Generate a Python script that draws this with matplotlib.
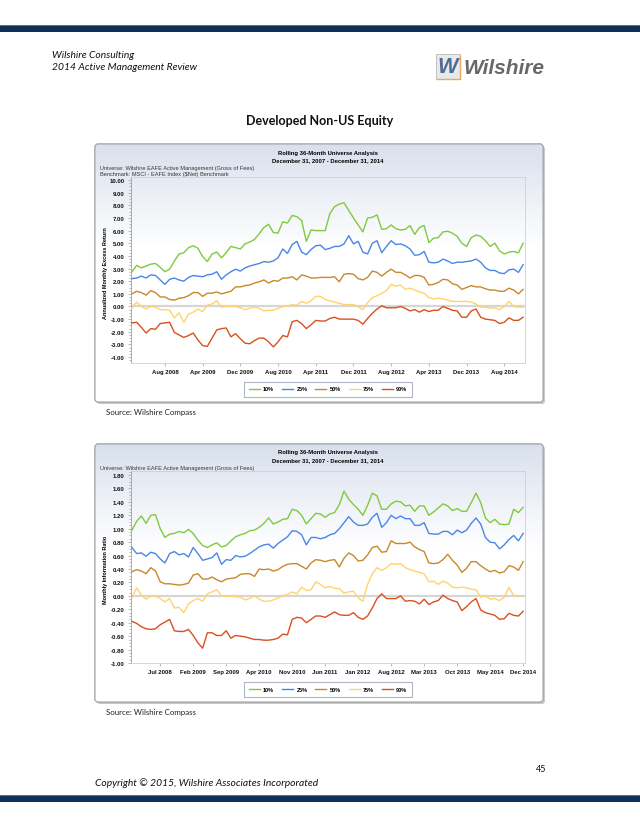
import numpy as np
import matplotlib.pyplot as plt
from matplotlib.patches import FancyBboxPatch, Rectangle
from matplotlib.ticker import MultipleLocator, FormatStrFormatter

W, H = 640, 828

# month index 0 = Jan 2008 ... 83 = Dec 2014
months = np.arange(84)
pct_labels = ['10%', '25%', '50%', '75%', '90%']
colors = ['#7fca3e', '#4a86e8', '#c8882c', '#ffd46a', '#d9501f']

# chart 1: annualized monthly excess return
exc_10 = [2.75, 3.25, 3.05, 3.2, 3.35, 3.4, 3.1, 2.75, 2.95, 3.6,
          4.15, 4.25, 4.65, 4.8, 4.6, 3.95, 3.55, 4.15, 4.3, 3.85,
          4.25, 4.75, 4.65, 4.55, 4.95, 5.1, 5.3, 5.75, 6.25, 6.5,
          5.85, 5.8, 6.7, 6.6, 7.2, 7.1, 6.8, 5.15, 6.05, 6.0,
          6.0, 6.0, 7.35, 7.9, 8.1, 8.2, 7.6, 7.0, 6.45, 5.9,
          7.0, 7.05, 7.25, 6.1, 6.15, 6.45, 6.15, 6.05, 6.1, 6.4,
          5.7, 6.25, 6.4, 5.05, 5.4, 5.45, 5.9, 5.95, 5.8, 5.55,
          5.0, 4.75, 5.45, 5.65, 5.55, 5.2, 4.75, 5.0, 4.4, 4.15,
          4.3, 4.35, 4.25, 5.0]
exc_25 = [2.2, 2.25, 2.4, 2.25, 2.5, 2.45, 2.1, 1.75, 2.15, 2.25,
          2.1, 2.0, 2.3, 2.45, 2.4, 2.35, 2.5, 2.55, 2.75, 2.15,
          2.5, 2.75, 2.95, 2.8, 3.05, 3.2, 3.3, 3.4, 3.55, 3.5,
          3.6, 3.85, 4.55, 4.2, 4.9, 5.15, 4.3, 4.1, 4.5, 4.8,
          4.85, 4.5, 4.6, 4.75, 4.75, 4.95, 5.6, 4.95, 5.15, 4.3,
          4.15, 5.0, 5.2, 4.25, 4.75, 5.2, 4.9, 4.95, 4.8, 4.55,
          4.05, 4.1, 4.35, 3.5, 3.45, 3.5, 3.75, 3.6, 3.4, 3.5,
          3.5, 3.55, 3.6, 3.75, 3.5, 3.05, 2.85, 2.85, 2.65, 2.6,
          2.9, 2.95, 2.7, 3.3]
exc_50 = [1.0, 1.2, 1.1, 0.9, 1.25, 1.1, 0.75, 0.75, 0.55, 0.5,
          0.65, 0.7, 0.85, 1.1, 1.1, 0.8, 1.05, 1.05, 1.15, 1.0,
          1.1, 1.2, 1.55, 1.55, 1.65, 1.7, 1.85, 1.95, 2.1, 1.85,
          2.05, 2.0, 2.25, 2.25, 2.35, 2.1, 2.5, 2.4, 2.25, 2.25,
          2.3, 2.3, 2.3, 2.35, 1.95, 2.55, 2.6, 2.55, 2.2, 2.1,
          2.3, 2.8, 2.7, 2.4, 2.7, 2.95, 2.7, 2.7, 2.5, 2.25,
          2.45, 2.45, 2.3, 1.7, 1.75, 1.9, 2.15, 2.1, 1.8, 1.7,
          1.35, 1.5, 1.65, 1.55, 1.55, 1.4, 1.3, 1.3, 1.2, 1.2,
          1.45, 1.3, 1.0, 1.35]
exc_75 = [-0.1, 0.35, 0.0, -0.2, 0.0, -0.05, -0.25, -0.25, -0.3, -0.9,
          -0.5, -1.25, -0.6, -0.45, -0.2, -0.4, 0.1, 0.2, 0.45, -0.05,
          0.0, 0.0, 0.0, -0.1, -0.25, -0.15, -0.05, -0.15, -0.35, -0.3,
          -0.3, -0.15, 0.0, 0.05, 0.15, 0.1, 0.4, 0.25, 0.45, 0.8,
          0.8, 0.55, 0.45, 0.35, 0.25, 0.15, 0.15, 0.15, 0.0, -0.25,
          0.3, 0.7, 0.85, 1.05, 1.25, 1.75, 1.6, 1.7, 1.35, 1.45,
          1.3, 1.15, 1.05, 0.7, 0.6, 0.65, 0.6, 0.5, 0.4, 0.4,
          0.4, 0.4, 0.35, 0.2, -0.05, -0.05, -0.15, -0.1, -0.25, 0.0,
          0.4, 0.0, -0.05, -0.05]
exc_90 = [-1.3, -1.25, -1.65, -2.1, -1.75, -1.8, -1.35, -1.3, -1.25, -2.05,
          -2.25, -2.45, -2.3, -2.1, -2.65, -3.1, -3.15, -2.5, -1.85, -1.75,
          -1.7, -2.4, -2.15, -2.55, -2.9, -2.95, -2.7, -2.5, -2.5, -2.8,
          -3.2, -2.8, -2.3, -2.4, -1.2, -1.1, -1.35, -1.75, -1.45, -1.1,
          -1.15, -1.15, -0.95, -0.85, -1.0, -1.0, -1.0, -1.0, -1.1, -1.4,
          -0.95, -0.55, -0.2, 0.05, -0.1, -0.1, -0.1, 0.0, -0.15, -0.35,
          -0.25, -0.45, -0.25, -0.4, -0.3, -0.3, 0.0, -0.15, -0.3, -0.35,
          -0.85, -0.85, -0.35, -0.2, -0.85, -1.0, -1.05, -1.1, -1.35, -1.25,
          -0.9, -1.1, -1.1, -0.85]

# chart 2: monthly information ratio
ir_10 = [0.98, 1.11, 1.19, 1.08, 1.2, 1.21, 1.0, 0.87, 0.92, 0.93,
         0.96, 0.94, 0.99, 0.93, 0.83, 0.75, 0.72, 0.76, 0.79, 0.73,
         0.75, 0.82, 0.88, 0.91, 0.93, 0.97, 0.98, 1.02, 1.08, 1.16,
         1.07, 1.1, 1.14, 1.15, 1.29, 1.27, 1.2, 1.07, 1.15, 1.23,
         1.22, 1.17, 1.22, 1.24, 1.36, 1.56, 1.44, 1.36, 1.29, 1.2,
         1.35, 1.53, 1.49, 1.29, 1.29, 1.37, 1.41, 1.4, 1.34, 1.35,
         1.26, 1.34, 1.34, 1.2, 1.25, 1.31, 1.37, 1.34, 1.27, 1.3,
         1.26, 1.26, 1.39, 1.53, 1.39, 1.16, 1.09, 1.14, 1.07, 1.06,
         1.07, 1.29, 1.24, 1.32]
ir_25 = [0.72, 0.63, 0.64, 0.59, 0.65, 0.63, 0.55, 0.49, 0.63, 0.66,
         0.61, 0.63, 0.58, 0.72, 0.63, 0.53, 0.55, 0.57, 0.64, 0.47,
         0.54, 0.53, 0.6, 0.58, 0.59, 0.63, 0.68, 0.73, 0.76, 0.77,
         0.71, 0.78, 0.83, 0.88, 0.97, 0.96, 0.91, 0.76, 0.87, 0.87,
         0.85, 0.87, 0.91, 0.93, 1.0, 1.09, 1.18, 1.1, 1.05, 1.05,
         1.07, 1.17, 1.23, 1.02, 1.09, 1.2, 1.15, 1.19, 1.15, 1.15,
         1.05, 1.05, 1.09, 0.93, 0.92, 0.92, 0.96, 0.96, 0.91, 0.98,
         0.94, 0.98, 1.08, 1.16, 1.07, 0.87, 0.8, 0.79, 0.7, 0.76,
         0.84, 0.9, 0.82, 0.93]
ir_50 = [0.36, 0.39, 0.37, 0.33, 0.42, 0.37, 0.21, 0.18, 0.18, 0.17,
         0.16, 0.17, 0.19, 0.31, 0.33, 0.25, 0.25, 0.28, 0.24, 0.21,
         0.25, 0.26, 0.27, 0.32, 0.33, 0.33, 0.29, 0.4, 0.39, 0.4,
         0.37, 0.39, 0.44, 0.47, 0.48, 0.48, 0.44, 0.4, 0.49, 0.54,
         0.53, 0.51, 0.53, 0.54, 0.43, 0.56, 0.64, 0.6, 0.52, 0.53,
         0.61, 0.72, 0.74, 0.65, 0.66, 0.82, 0.78, 0.78, 0.78, 0.8,
         0.73, 0.69, 0.66, 0.49, 0.48, 0.49, 0.54, 0.62, 0.53, 0.46,
         0.35, 0.41, 0.51, 0.51, 0.45, 0.4, 0.36, 0.38, 0.34, 0.36,
         0.45, 0.43, 0.38, 0.51]
ir_75 = [-0.03, 0.12, 0.01, -0.05, 0.0, 0.0, -0.04, -0.09, -0.04, -0.18,
         -0.17, -0.25, -0.12, -0.07, -0.04, -0.08, 0.03, 0.06, 0.09, 0.0,
         0.0, -0.01, -0.01, -0.02, -0.06, -0.04, 0.0, -0.05, -0.08, -0.08,
         -0.06, -0.03, 0.0, 0.02, 0.06, 0.03, 0.13, 0.08, 0.09, 0.21,
         0.17, 0.12, 0.14, 0.11, 0.11, 0.04, 0.06, 0.07, -0.03, -0.08,
         0.17, 0.33, 0.42, 0.38, 0.42, 0.48, 0.47, 0.48, 0.42, 0.39,
         0.37, 0.35, 0.33, 0.21, 0.22, 0.17, 0.22, 0.19, 0.13, 0.12,
         0.13, 0.12, 0.1, 0.09, -0.02, 0.0, -0.05, -0.04, -0.07, -0.02,
         0.13, 0.0, 0.0, 0.0]
ir_90 = [-0.38, -0.41, -0.46, -0.49, -0.5, -0.49, -0.43, -0.39, -0.35, -0.52,
         -0.53, -0.53, -0.5, -0.59, -0.7, -0.78, -0.55, -0.55, -0.59, -0.59,
         -0.52, -0.63, -0.59, -0.6, -0.61, -0.63, -0.65, -0.65, -0.66, -0.66,
         -0.65, -0.63, -0.57, -0.58, -0.35, -0.32, -0.33, -0.4, -0.35, -0.3,
         -0.3, -0.32, -0.28, -0.24, -0.28, -0.29, -0.29, -0.25, -0.32, -0.35,
         -0.3, -0.18, -0.04, 0.03, -0.04, -0.04, -0.04, 0.0, -0.08, -0.07,
         -0.08, -0.12, -0.05, -0.13, -0.09, -0.07, 0.01, -0.04, -0.07, -0.09,
         -0.22, -0.16, -0.09, -0.04, -0.21, -0.25, -0.27, -0.29, -0.35, -0.34,
         -0.26, -0.29, -0.3, -0.23]

# x tick labels
xt1_pos = [7, 15, 23, 31, 39, 47, 55, 63, 71, 79]
xt1_lab = ['Aug 2008', 'Apr 2009', 'Dec 2009', 'Aug 2010', 'Apr 2011',
           'Dec 2011', 'Aug 2012', 'Apr 2013', 'Dec 2013', 'Aug 2014']
xt2_pos = [6, 13, 20, 27, 34, 41, 48, 55, 62, 69, 76, 83]
xt2_lab = ['Jul 2008', 'Feb 2009', 'Sep 2009', 'Apr 2010', 'Nov 2010',
           'Jun 2011', 'Jan 2012', 'Aug 2012', 'Mar 2013', 'Oct 2013',
           'May 2014', 'Dec 2014']

CF = 'Liberation Sans'
PF = 'Lato'


def box(x0, y0, x1, y1):
    # pixel box (top-left origin) -> figure coords
    return [x0 / W, 1 - y1 / H, (x1 - x0) / W, (y1 - y0) / H]


fig = plt.figure(figsize=(6.4, 8.28), dpi=100)
page = fig.add_axes([0, 0, 1, 1])
page.set_xlim(0, W)
page.set_ylim(H, 0)
page.axis('off')

# navy bars top and bottom
for yb in (26, 796):
    page.add_patch(Rectangle((0, yb), W, 7.0, color='#0f3158', lw=0))
    page.add_patch(Rectangle((0, yb), W, 1.2, color='#50708f', lw=0))

page.text(52, 56, 'Wilshire Consulting', family=PF, style='italic',
          size=7.4, va='center', color='#111111')
page.text(52, 68, '2014 Active Management Review', family=PF, style='italic',
          size=7.4, va='center', color='#111111')

# logo
page.add_patch(Rectangle((436, 55), 24, 25, fc='#e9e9e9', ec='#b8b8b8', lw=0.6))
page.plot([437, 460, 460], [80, 80, 57], color='#e9a961', lw=1.0)
page.text(448, 67.5, 'W', family=CF, weight='bold', style='italic',
          size=15.5, color='#4f6c96', ha='center', va='center')
page.text(463, 68, 'Wilshire', family=CF, weight='bold', style='italic',
          size=15, color='#686868', ha='left', va='center')

page.text(320, 121, 'Developed Non-US Equity', family=PF, weight='bold',
          size=9, ha='center', va='center', color='#111111')

# gradient used for the chart panels
t = np.linspace(0, 1, 200)
a = np.clip(1 - t / 0.4, 0, 1)[:, None, None]
top_col = np.array([0.85, 0.88, 0.93])
grad = (1 - a) * np.ones(3) + a * top_col


def panel(y0, y1):
    x0, x1 = 95, 543
    sh = FancyBboxPatch((x0 + 2, y0 + 2), x1 - x0, y1 - y0,
                        boxstyle='round,pad=0,rounding_size=3',
                        fc='#c9c9c9', ec='none')
    page.add_patch(sh)
    body = FancyBboxPatch((x0, y0), x1 - x0, y1 - y0,
                          boxstyle='round,pad=0,rounding_size=3',
                          fc='white', ec='#a6a6a6', lw=0.8)
    page.add_patch(body)
    im = page.imshow(grad, extent=(x0, x1, y1, y0), aspect='auto',
                     origin='upper', zorder=2)
    im.set_clip_path(body)
    edge = FancyBboxPatch((x0, y0), x1 - x0, y1 - y0,
                          boxstyle='round,pad=0,rounding_size=3',
                          fc='none', ec='#a6a6a6', lw=0.8, zorder=3)
    page.add_patch(edge)
    page.set_xlim(0, W)
    page.set_ylim(H, 0)


def chart(y0, series, ylim, ystep, yminor, ylabel, xpos, xlab, info):
    panel(y0, y0 + 258)
    page.text(328, y0 + 8, 'Rolling 36-Month Universe Analysis', family=CF,
              weight='bold', size=4.2, ha='center', va='center', zorder=4)
    page.text(328, y0 + 16, 'December 31, 2007 - December 31, 2014', family=CF,
              weight='bold', size=4.2, ha='center', va='center', zorder=4)
    for k, line in enumerate(info):
        page.text(100, y0 + 23.5 + 6 * k, line, family=CF, size=4.1,
                  ha='left', va='center', color='#333333', zorder=4)

    top = y0 + 33 if len(info) == 2 else y0 + 27
    ax = fig.add_axes(box(131, top, 525, y0 + 219))
    ax.set_facecolor('none')
    ax.axhline(0, color='#d6d6d6', lw=1.6, zorder=1)
    for vals, c, lab in zip(series, colors, pct_labels):
        ax.plot(months, vals, color=c, lw=1.0, label=lab, zorder=3)
    ax.set_xlim(-0.2, 83.4)
    ax.set_ylim(*ylim)
    ax.yaxis.set_major_locator(MultipleLocator(ystep))
    ax.yaxis.set_minor_locator(MultipleLocator(yminor))
    ax.yaxis.set_major_formatter(FormatStrFormatter('%.2f'))
    ax.set_xticks(xpos)
    ax.set_xticklabels(xlab)
    for s in ax.spines.values():
        s.set_color('#d0d0d0')
        s.set_linewidth(0.6)
    ax.spines['left'].set_color('#a0a0a0')
    ax.tick_params(axis='both', which='both', color='#a0a0a0', width=0.5,
                   labelsize=4.3, labelcolor='#111111')
    ax.tick_params(axis='y', which='major', length=2.5, pad=2)
    ax.tick_params(axis='y', which='minor', length=1.3)
    ax.tick_params(axis='x', which='major', length=2, pad=2.5)
    for lb in ax.get_xticklabels() + ax.get_yticklabels():
        lb.set_family(CF)
        lb.set_fontweight('bold')

    ymid = (top + y0 + 219) / 2
    page.text(105, ymid + 2, ylabel, family=CF, weight='bold', size=4.0,
              rotation=90, ha='center', va='center', zorder=4)

    leg = ax.legend(loc='center', bbox_to_anchor=(328 / W, 1 - (y0 + 245) / H),
                    bbox_transform=fig.transFigure, ncol=5, frameon=True,
                    fancybox=False, edgecolor='#9aa4b6', facecolor='white',
                    prop={'family': CF, 'weight': 'bold', 'size': 4.0},
                    handlelength=2.0, handletextpad=0.6, columnspacing=1.4,
                    borderpad=0.9)
    leg.get_frame().set_linewidth(0.8)
    page.text(106, y0 + 268, 'Source: Wilshire Compass', family=PF, size=5.7,
              ha='left', va='center', color='#222222')
    return ax


chart(145, [exc_10, exc_25, exc_50, exc_75, exc_90], (-4.47, 10.24), 1.0, 0.25,
      'Annualized Monthly Excess Return', xt1_pos, xt1_lab,
      ['Universe: Wilshire EAFE Active Management (Gross of Fees)',
       'Benchmark: MSCI - EAFE Index (\\$Net) Benchmark'])

chart(445, [ir_10, ir_25, ir_50, ir_75, ir_90], (-1.0, 1.86), 0.2, 0.05,
      'Monthly Information Ratio', xt2_pos, xt2_lab,
      ['Universe: Wilshire EAFE Active Management (Gross of Fees)'])

page.text(541, 770, '45', family=PF, size=6.5, ha='center', va='center',
          color='#111111')
page.text(95, 783, 'Copyright \u00a9 2015, Wilshire Associates Incorporated',
          family=PF, style='italic', size=7.4, ha='left', va='center',
          color='#111111')

fig.savefig('out.png', dpi=100)
